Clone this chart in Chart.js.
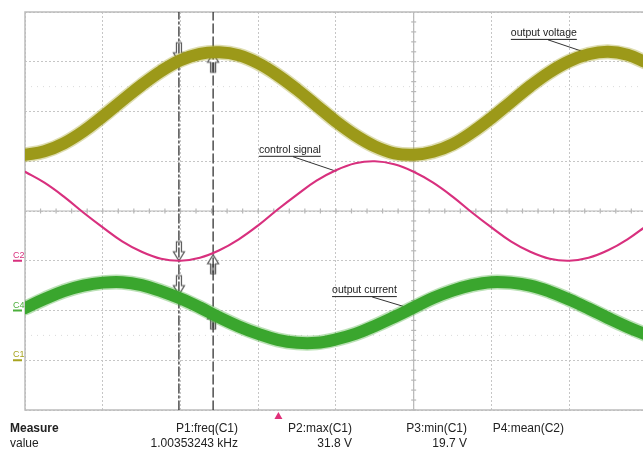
<!DOCTYPE html>
<html>
<head>
<meta charset="utf-8">
<script src="https://cdn.jsdelivr.net/npm/chart.js@4"></script>
<style>
  body { margin: 0; background: #fff; }
  #scope { display: block; }
</style>
</head>
<body>
<canvas id="scope" width="643" height="451"></canvas>
<script>
// time axis in divisions (0.2 ms/div), values in divisions
const timeDiv = [0, 0.25, 0.5, 0.75, 1, 1.25, 1.5, 1.75, 2, 2.25, 2.5, 2.75, 3, 3.25, 3.5, 3.75, 4,
    4.25, 4.5, 4.75, 5, 5.25, 5.5, 5.75, 6, 6.25, 6.5, 6.75, 7, 7.25, 7.5, 7.75, 8];
const outputVoltage = [1.13, 1.20, 1.36, 1.60, 1.90, 2.22, 2.53, 2.81, 3.03, 3.16, 3.19, 3.13, 2.97,
    2.73, 2.44, 2.12, 1.80, 1.52, 1.30, 1.16, 1.13, 1.19, 1.34, 1.58, 1.87, 2.19, 2.51, 2.79, 3.01,
    3.15, 3.20, 3.14, 2.98];
const controlSignal = [0.79, 0.57, 0.29, -0.03, -0.33, -0.61, -0.82, -0.96, -1.00, -0.94, -0.79, -0.57,
    -0.29, 0.03, 0.33, 0.61, 0.82, 0.96, 1.00, 0.94, 0.79, 0.57, 0.29, -0.03, -0.33, -0.61, -0.82,
    -0.96, -1.00, -0.94, -0.79, -0.57, -0.29];
const outputCurrent = [-1.95, -1.77, -1.61, -1.50, -1.44, -1.43, -1.49, -1.61, -1.76, -1.94, -2.14, -2.32,
    -2.47, -2.59, -2.65, -2.65, -2.58, -2.47, -2.31, -2.13, -1.94, -1.75, -1.60, -1.49, -1.43, -1.44,
    -1.50, -1.62, -1.78, -1.96, -2.15, -2.33, -2.49];

const cursorX = [1.98, 2.42];
const downArrowY = [3.00, -1.00, -1.68];   // at cursor 1
const upArrowY = [3.17, -0.88, -1.99];     // at cursor 2

const channelNames = ['C2', 'C4', 'C1'];
const channelGround = [-1, -2, -3];
const channelColors = ['#d8307e', '#4caf3c', '#a8a420'];

const noteText = ['output voltage', 'control signal', 'output current'];
const noteX = [6.25, 3.01, 3.95];
const noteY = [3.58, 1.23, -1.59];
const leaderFrom = [[6.73, 3.44], [3.45, 1.09], [4.47, -1.73]];
const leaderTo = [[7.30, 3.14], [4.00, 0.80], [4.98, -1.97]];

const measureNames = ['P1:freq(C1)', 'P2:max(C1)', 'P3:min(C1)', 'P4:mean(C2)'];
const measureValues = ['1.00353243 kHz', '31.8 V', '19.7 V', ''];
const triggerPos = 3.26;

function pts(ys) {
    return ys.map((y, i) => ({ x: timeDiv[i], y: y }));
}

function makeArrow(up) {
    const c = document.createElement('canvas');
    c.width = 14; c.height = 48;
    const g = c.getContext('2d');
    g.save();
    if (up) { g.translate(0, 48); g.scale(1, -1); }
    g.beginPath();
    g.moveTo(4.5, 5); g.lineTo(9.5, 5); g.lineTo(9.5, 15); g.lineTo(12.5, 15);
    g.lineTo(7, 24); g.lineTo(1.5, 15); g.lineTo(4.5, 15); g.closePath();
    g.fillStyle = '#fff';
    g.fill();
    if (up) { g.fillStyle = '#8a8a8a'; g.fillRect(5.5, 6, 3, 9); }
    g.strokeStyle = '#555';
    g.lineWidth = 1.2;
    g.stroke();
    g.restore();
    return c;
}

const scopeDecor = {
    id: 'scopeDecor',
    beforeDatasetsDraw(chart) {
        const { ctx, chartArea: a, scales: { x, y } } = chart;
        ctx.save();
        // faint half-division lines
        ctx.strokeStyle = '#dadada';
        ctx.setLineDash([1, 5]);
        [2.5, -2.5].forEach(v => {
            ctx.beginPath(); ctx.moveTo(a.left, y.getPixelForValue(v)); ctx.lineTo(a.right, y.getPixelForValue(v)); ctx.stroke();
        });
        ctx.setLineDash([]);
        // centre axes with minor ticks
        ctx.strokeStyle = '#b8b8b8';
        ctx.lineWidth = 1.2;
        const cy = y.getPixelForValue(0), cx = x.getPixelForValue(5);
        ctx.beginPath(); ctx.moveTo(a.left, cy); ctx.lineTo(a.right, cy); ctx.stroke();
        ctx.beginPath(); ctx.moveTo(cx, a.top); ctx.lineTo(cx, a.bottom); ctx.stroke();
        for (let v = 0.2; v < 8; v += 0.2) {
            const px = x.getPixelForValue(v);
            ctx.beginPath(); ctx.moveTo(px, cy - 2.5); ctx.lineTo(px, cy + 2.5); ctx.stroke();
        }
        for (let v = -4; v <= 4; v += 0.2) {
            const py = y.getPixelForValue(v);
            ctx.beginPath(); ctx.moveTo(cx - 2.5, py); ctx.lineTo(cx + 2.5, py); ctx.stroke();
        }
        // frame
        ctx.strokeStyle = '#bcbcbc';
        ctx.lineWidth = 1.5;
        ctx.beginPath();
        ctx.moveTo(a.right, a.top); ctx.lineTo(a.left, a.top); ctx.lineTo(a.left, a.bottom); ctx.lineTo(a.right, a.bottom);
        ctx.stroke();
        // channel ground markers
        ctx.font = '9px "Liberation Sans", Arial, sans-serif';
        ctx.textBaseline = 'alphabetic';
        channelNames.forEach((n, i) => {
            const py = y.getPixelForValue(channelGround[i]);
            ctx.fillStyle = channelColors[i];
            ctx.fillText(n, 13, py - 3);
            ctx.fillRect(13, py - 1, 9, 2);
        });
        ctx.restore();
    },
    afterDatasetsDraw(chart) {
        const { ctx, chartArea: a, scales: { x, y } } = chart;
        ctx.save();
        ctx.font = '10.5px "Liberation Sans", Arial, sans-serif';
        ctx.fillStyle = '#222';
        ctx.strokeStyle = '#222';
        ctx.lineWidth = 1;
        ctx.textBaseline = 'middle';
        noteText.forEach((t, i) => {
            const px = x.getPixelForValue(noteX[i]), py = y.getPixelForValue(noteY[i]);
            ctx.fillText(t, px, py);
            const w = ctx.measureText(t).width;
            ctx.beginPath(); ctx.moveTo(px, py + 6.5); ctx.lineTo(px + w, py + 6.5); ctx.stroke();
        });
        // trigger marker
        const tx = x.getPixelForValue(triggerPos);
        ctx.fillStyle = '#e0307a';
        ctx.beginPath(); ctx.moveTo(tx, a.bottom + 2); ctx.lineTo(tx + 4, a.bottom + 9); ctx.lineTo(tx - 4, a.bottom + 9); ctx.closePath(); ctx.fill();
        // measurement table
        ctx.fillStyle = '#222';
        ctx.font = 'bold 12px "Liberation Sans", Arial, sans-serif';
        ctx.textAlign = 'left';
        ctx.fillText('Measure', 10, 429);
        ctx.font = '12px "Liberation Sans", Arial, sans-serif';
        ctx.fillText('value', 10, 444);
        const colEnd = [238, 352, 467, 564];
        ctx.textAlign = 'right';
        measureNames.forEach((n, i) => {
            ctx.fillText(n, colEnd[i], 429);
            ctx.fillText(measureValues[i], colEnd[i], 444);
        });
        ctx.restore();
    }
};

const datasets = [
    { data: pts(outputVoltage), borderColor: 'rgba(160,158,30,0.35)', borderWidth: 15 },
    { data: pts(outputVoltage), borderColor: '#9a9718', borderWidth: 12 },
    { data: pts(outputVoltage), borderColor: '#b2af2e', borderWidth: 7 },
    { data: pts(controlSignal), borderColor: '#d8307e', borderWidth: 2.2 },
    { data: pts(outputCurrent), borderColor: 'rgba(60,170,45,0.35)', borderWidth: 15 },
    { data: pts(outputCurrent), borderColor: '#3aa52e', borderWidth: 12 },
    { data: pts(outputCurrent), borderColor: '#4fba3e', borderWidth: 7 },
    { data: [{ x: cursorX[0], y: -4 }, { x: cursorX[0], y: 4 }], borderColor: '#333', borderWidth: 1.3, borderDash: [9, 3, 2, 3], tension: 0 },
    { data: [{ x: cursorX[1], y: -4 }, { x: cursorX[1], y: 4 }], borderColor: '#333', borderWidth: 1.3, borderDash: [9, 4], tension: 0 }
];
leaderFrom.forEach((p, i) => {
    datasets.push({ data: [{ x: p[0], y: p[1] }, { x: leaderTo[i][0], y: leaderTo[i][1] }], borderColor: '#333', borderWidth: 1, tension: 0 });
});
datasets.push({ data: downArrowY.map(v => ({ x: cursorX[0], y: v })), showLine: false, pointStyle: makeArrow(false), pointRadius: 7 });
datasets.push({ data: upArrowY.map(v => ({ x: cursorX[1], y: v })), showLine: false, pointStyle: makeArrow(true), pointRadius: 7 });

new Chart(document.getElementById('scope').getContext('2d'), {
    type: 'line',
    data: { datasets: datasets },
    options: {
        responsive: false,
        animation: false,
        events: [],
        layout: { autoPadding: false, padding: { left: 25, top: 12, right: 0, bottom: 41 } },
        elements: {
            line: { tension: 0.4, borderCapStyle: 'round' },
            point: { radius: 0, hoverRadius: 0 }
        },
        plugins: { legend: { display: false }, tooltip: { enabled: false } },
        scales: {
            x: {
                type: 'linear', min: 0, max: 7.95,
                ticks: { display: false, stepSize: 1 },
                grid: { color: '#c6c6c6', drawTicks: false },
                border: { display: false, dash: [2, 2] }
            },
            y: {
                min: -4, max: 4,
                ticks: { display: false, stepSize: 1 },
                grid: { color: '#c6c6c6', drawTicks: false },
                border: { display: false, dash: [2, 2] }
            }
        }
    },
    plugins: [scopeDecor]
});
</script>
</body>
</html>
